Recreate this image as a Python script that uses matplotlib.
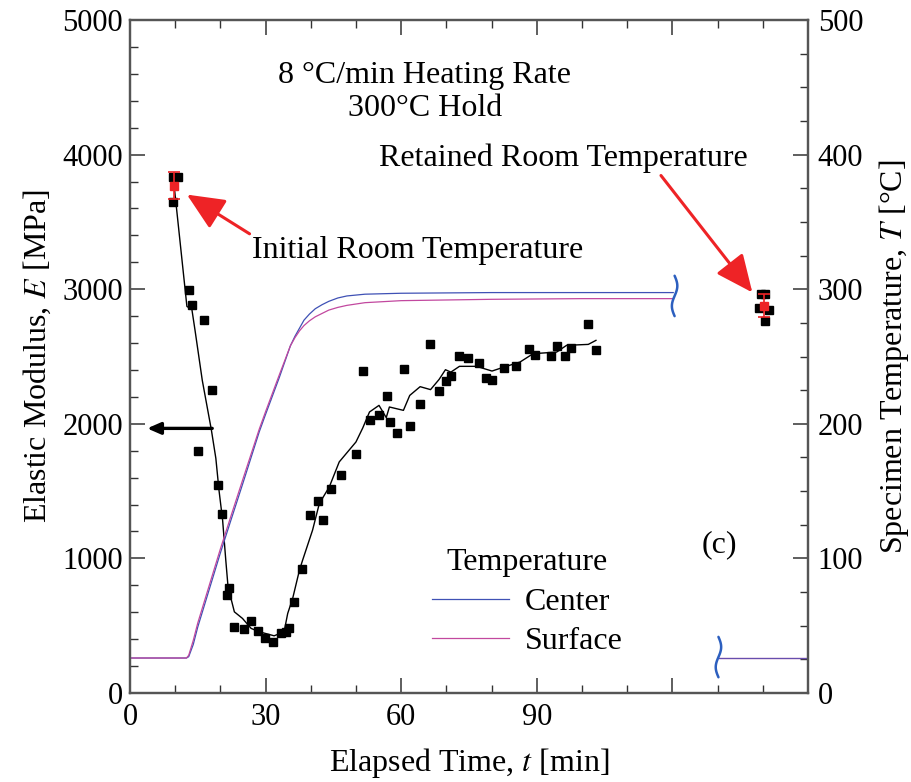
import numpy as np
import matplotlib
matplotlib.use("Agg")
import matplotlib.pyplot as plt
from matplotlib.ticker import MultipleLocator

plt.rcParams['font.family'] = ['Liberation Serif', 'DejaVu Serif']
plt.rcParams['mathtext.fontset'] = 'stix'

# elastic modulus measurements [min, MPa]
t_pts = [9.5, 9.6, 10.6, 13.0, 13.8, 15.0, 16.4, 18.2, 19.4, 20.4, 21.4, 22.0,
         23.1, 25.3, 26.7, 28.4, 29.9, 31.6, 33.4, 34.5, 35.2, 36.4, 38.0, 39.8,
         41.5, 42.6, 44.4, 46.6, 50.0, 51.5, 53.0, 55.1, 56.8, 57.5, 59.1, 60.6,
         61.9, 64.1, 66.3, 68.4, 69.9, 71.0, 72.8, 74.8, 77.2, 78.7, 80.1, 82.7,
         85.4, 88.2, 89.7, 93.2, 94.5, 96.3, 97.6, 101.4, 103.0]
E_pts = [3651, 3830, 3830, 2995, 2882, 1796, 2768, 2254, 1544, 1328, 727, 777,
         490, 473, 537, 458, 406, 376, 448, 450, 485, 673, 925, 1326,
         1425, 1289, 1519, 1618, 1779, 2390, 2026, 2063, 2204, 2011, 1935, 2410,
         1981, 2150, 2595, 2241, 2321, 2353, 2501, 2491, 2454, 2343, 2323, 2417,
         2432, 2558, 2513, 2501, 2575, 2501, 2565, 2744, 2545]

# running average of the modulus
t_avg = [9.8, 12.6, 13.7, 14.4, 16.0, 18.0, 19.0, 19.7, 20.5, 21.2, 21.7, 23.1,
         24.9, 26.8, 28.6, 31.9, 34.1, 34.9, 36.0, 37.5, 38.2, 40.4, 41.9, 44.1,
         46.3, 50.0, 51.5, 53.0, 55.1, 56.7, 57.4, 60.5, 61.9, 64.2, 66.5, 68.4,
         69.8, 71.0, 72.9, 76.7, 80.1, 82.7, 86.3, 89.2, 94.4, 96.6, 101.4, 103.1]
E_avg = [3760, 2872, 2850, 2694, 2323, 1957, 1744, 1506, 1284, 987, 789, 603,
         554, 480, 455, 425, 455, 591, 703, 913, 987, 1210, 1408, 1531,
         1717, 1865, 1969, 2088, 2137, 2046, 2125, 2100, 2211, 2276, 2254, 2330,
         2402, 2384, 2427, 2427, 2392, 2421, 2459, 2521, 2533, 2583, 2590, 2620]

# room temperature averages with scatter
t_rt = [9.8, 140.3]
E_rt = [3770, 2877]
E_rt_err = [100, 87]
t_ret = [139.7, 140.6, 139.2, 141.4, 140.6]
E_ret = [2965, 2965, 2862, 2848, 2761]

# specimen temperature [min, degC]
t_temp = [0, 12.5, 13.0, 14.0, 15.0, 18.0, 20.0, 22.3, 25.0, 28.6, 30.0, 33.0,
          35.5, 36.5, 37.5, 38.5, 39.7, 41.0, 42.5, 44.0, 46.0, 48.0, 52.0, 60.0,
          80.0, 100.0, 120.2]
T_center = [26, 26, 27, 36, 49, 82, 104, 128, 156, 194, 207, 234,
            258, 265, 271, 277, 281.5, 285.5, 288.5, 291, 293.5, 295, 296.3, 297,
            297.5, 297.5, 297.5]
T_surface = [26, 26, 28, 39, 52, 85, 107, 131, 159, 196, 209, 236,
             258, 264, 269, 273, 276.5, 279.5, 282, 284.5, 286.5, 288, 290, 291.5,
             292.5, 293, 293]
t_cool = [130.3, 150]
T_cool = [26, 26]

c_center = '#3f51b5'
c_surface = '#c2489f'
red = '#ee2326'
fs = 23

fig = plt.figure(figsize=(9.12, 7.82), dpi=100)
ax = fig.add_axes([0.1425, 0.1138, 0.7434, 0.8606])
ax2 = ax.twinx()

ax.plot(t_avg, E_avg, color='black', lw=1.0, zorder=3)
ax.plot(t_pts, E_pts, 's', color='black', ms=5.5, zorder=4)
ax.plot(t_ret, E_ret, 's', color='black', ms=5.5, zorder=4)
ax.errorbar(t_rt, E_rt, yerr=E_rt_err, fmt='s', color=red, ms=5.5,
            capsize=4, elinewidth=1.2, capthick=1.2, zorder=5)

ax2.plot(t_temp, T_center, color=c_center, lw=0.9, label='Center')
ax2.plot(t_temp, T_surface, color=c_surface, lw=0.9, label='Surface')
ax2.plot(t_cool, T_cool, color=c_surface, lw=0.9)
ax2.plot(t_cool, T_cool, color=c_center, lw=0.9, alpha=0.7)

# axis break marks (wavy)
s = np.linspace(0, 1, 60)
for x0, y0 in [(120.5, 295), (130.2, 26.7)]:
    ax2.plot(x0 + 0.6 * np.sin(2 * np.pi * s), y0 + 15 - 30 * s,
             color='#2c5fbf', lw=1.8, solid_capstyle='round')

ax.set_xlim(0, 150)
ax.set_ylim(0, 5000)
ax2.set_ylim(0, 500)

ax.set_xticks([0, 30, 60, 90, 120, 150])
ax.set_xticklabels(['0', '30', '60', '90', '', ''])
ax.xaxis.set_minor_locator(MultipleLocator(10))
ax.yaxis.set_major_locator(MultipleLocator(1000))
ax.yaxis.set_minor_locator(MultipleLocator(200))
ax2.yaxis.set_major_locator(MultipleLocator(100))
ax2.yaxis.set_minor_locator(MultipleLocator(25))

ax.tick_params(axis='x', which='both', direction='in', top=True, labelsize=22, pad=7)
ax.tick_params(axis='y', which='both', direction='in', right=False, labelsize=22, pad=5)
ax2.tick_params(axis='y', which='both', direction='in', labelsize=22, pad=7)
for a in (ax, ax2):
    a.tick_params(which='major', length=11, width=1.1, color='#333333')
    a.tick_params(which='minor', length=6, width=1.0, color='#333333')
    for sp in a.spines.values():
        sp.set_linewidth(1.6)
        sp.set_color('#555555')

ax.set_xlabel('Elapsed Time, $t$ [min]', fontsize=fs, labelpad=10)
ax.set_ylabel('Elastic Modulus, $E$ [MPa]', fontsize=fs, labelpad=7)
ax2.set_ylabel('Specimen Temperature, $T$ [°C]', fontsize=fs, labelpad=10)

ax.text(0.435, 0.917, '8 °C/min Heating Rate', transform=ax.transAxes,
        ha='center', va='center', fontsize=fs)
ax.text(0.435, 0.869, '300°C Hold', transform=ax.transAxes,
        ha='center', va='center', fontsize=fs)
ax.text(0.870, 0.2199, '(c)', transform=ax.transAxes,
        ha='center', va='center', fontsize=fs)

ax.annotate('Initial Room Temperature', xy=(12.6, 3703), xytext=(0.4248, 0.6582),
            textcoords='axes fraction', ha='center', va='center', fontsize=fs,
            arrowprops=dict(arrowstyle='-|>,head_length=1.0,head_width=0.45',
                            color=red, lw=2.2, shrinkA=0, shrinkB=0,
                            relpos=(0.0, 1.0)))
ax.annotate('Retained Room Temperature', xy=(137.7, 2976), xytext=(0.6386, 0.795),
            textcoords='axes fraction', ha='center', va='center', fontsize=fs,
            arrowprops=dict(arrowstyle='-|>,head_length=1.0,head_width=0.45',
                            color=red, lw=2.2, shrinkA=0, shrinkB=0,
                            relpos=(0.76, 0.0)))
ax.annotate('', xy=(3.8, 1966), xytext=(18.2, 1966),
            arrowprops=dict(arrowstyle='-|>,head_length=0.8,head_width=0.35',
                            color='black', lw=2.4, shrinkA=0, shrinkB=0))

leg = ax2.legend(loc='upper left', bbox_to_anchor=(0.403, 0.258), frameon=False,
                 title='Temperature', fontsize=fs, title_fontsize=fs,
                 handlelength=2.4, handletextpad=0.5, labelspacing=0.32)

fig.savefig('out.png', dpi=100)
